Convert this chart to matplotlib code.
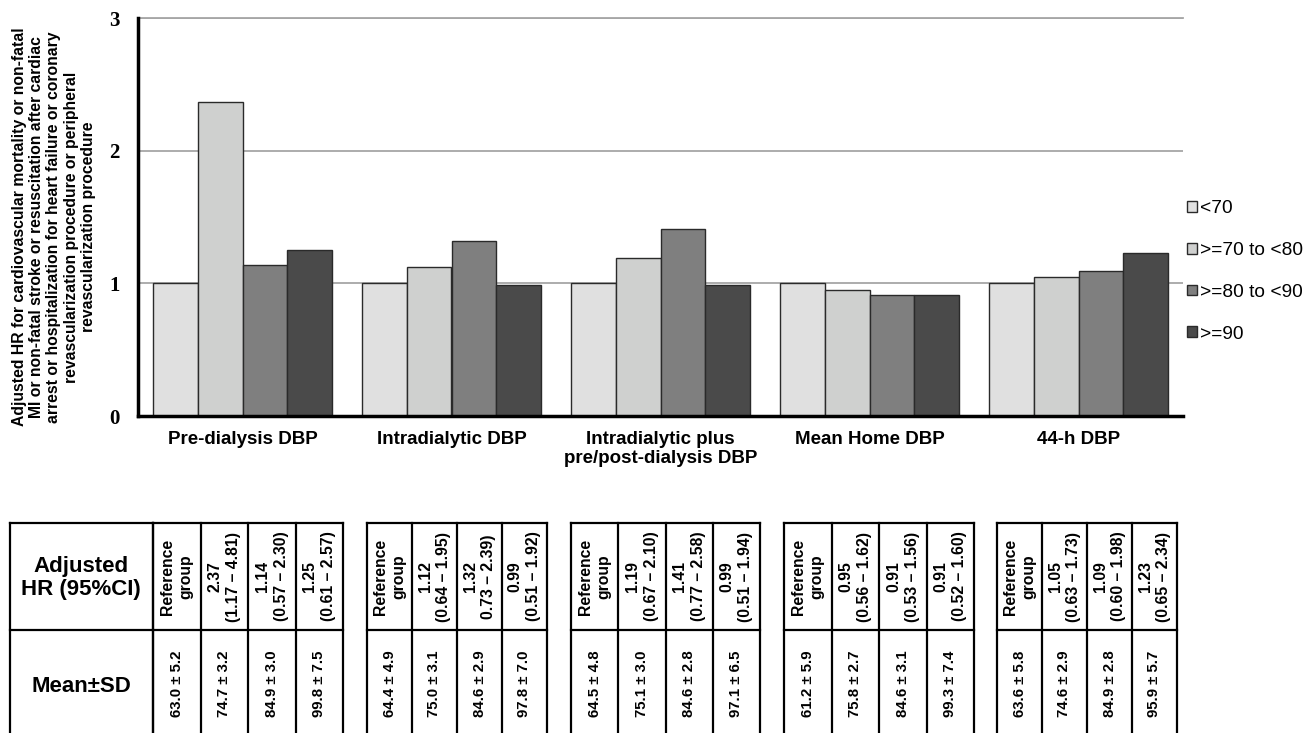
import matplotlib
matplotlib.use("Agg")
import matplotlib.pyplot as plt
from matplotlib.patches import Patch
import numpy as np

# ---- data ----
categories = ["Pre-dialysis DBP", "Intradialytic DBP",
              "Intradialytic plus\npre/post-dialysis DBP",
              "Mean Home DBP", "44-h DBP"]
series = ["<70", ">=70 to <80", ">=80 to <90", ">=90"]
hr_lt70 = [1.00, 1.00, 1.00, 1.00, 1.00]
hr_70_80 = [2.37, 1.12, 1.19, 0.95, 1.05]
hr_80_90 = [1.14, 1.32, 1.41, 0.91, 1.09]
hr_ge90 = [1.25, 0.99, 0.99, 0.91, 1.23]
yticks = [0, 1, 2, 3]

hr_text = [
    ["Reference\ngroup", "2.37\n(1.17 – 4.81)", "1.14\n(0.57 – 2.30)", "1.25\n(0.61 – 2.57)"],
    ["Reference\ngroup", "1.12\n(0.64 – 1.95)", "1.32\n0.73 – 2.39)", "0.99\n(0.51 – 1.92)"],
    ["Reference\ngroup", "1.19\n(0.67 – 2.10)", "1.41\n(0.77 – 2.58)", "0.99\n(0.51 – 1.94)"],
    ["Reference\ngroup", "0.95\n(0.56 – 1.62)", "0.91\n(0.53 – 1.56)", "0.91\n(0.52 – 1.60)"],
    ["Reference\ngroup", "1.05\n(0.63 – 1.73)", "1.09\n(0.60 – 1.98)", "1.23\n(0.65 – 2.34)"],
]
mean_vals = [[63.0, 74.7, 84.9, 99.8],
             [64.4, 75.0, 84.6, 97.8],
             [64.5, 75.1, 84.6, 97.1],
             [61.2, 75.8, 84.6, 99.3],
             [63.6, 74.6, 84.9, 95.9]]
sd_vals = [[5.2, 3.2, 3.0, 7.5],
           [4.9, 3.1, 2.9, 7.0],
           [4.8, 3.0, 2.8, 6.5],
           [5.9, 2.7, 3.1, 7.4],
           [5.8, 2.9, 2.8, 5.7]]

colors = ["#e0e0e0", "#cfd0cf", "#7f7f7f", "#4a4a4a"]
SANS = ["Liberation Sans", "DejaVu Sans"]
SERIF = ["Liberation Serif", "DejaVu Serif"]

W, H = 1309, 733
fig = plt.figure(figsize=(W / 100, H / 100), dpi=100)


def frac_box(left, top, right, bottom):
    return [left / W, 1 - bottom / H, (right - left) / W, (bottom - top) / H]


# ---- bar chart ----
ax = fig.add_axes(frac_box(138, 18, 1183, 416))
x = np.arange(len(categories))
bw = 0.213
all_series = [hr_lt70, hr_70_80, hr_80_90, hr_ge90]
for i, (vals, col, lab) in enumerate(zip(all_series, colors, series)):
    ax.bar(x + (i - 1.5) * bw, vals, width=bw, color=col,
           edgecolor="#2a2a2a", linewidth=1.0, label=lab, zorder=3)

ax.set_xlim(-0.5, len(categories) - 0.5)
ax.set_ylim(0, 3)
ax.set_yticks(yticks)
ax.set_yticklabels([str(t) for t in yticks], family=SERIF,
                   fontweight="bold", fontsize=15)
ax.yaxis.grid(True, color="#a6a6a6", linewidth=1.3, zorder=0)
ax.set_axisbelow(True)
ax.set_xticks(x)
ax.set_xticklabels(categories, family=SANS, fontweight="bold", fontsize=13.5,
                   linespacing=1.15)
ax.tick_params(axis="both", length=0)
ax.tick_params(axis="y", pad=13)
ax.tick_params(axis="x", pad=11)
for s in ["top", "right"]:
    ax.spines[s].set_visible(False)
ax.spines["left"].set_linewidth(2.5)
ax.spines["bottom"].set_linewidth(2.5)
ax.spines["bottom"].set_zorder(4)
# top gridline at 3
ax.axhline(3, color="#a6a6a6", linewidth=1.3, zorder=0, clip_on=False)

fig.text(54 / W, 1 - 227 / H,
         "Adjusted HR for cardiovascular mortality or non-fatal\n"
         "MI or non-fatal stroke or resuscitation after cardiac\n"
         "arrest or hospitalization for heart failure or coronary\n"
         "revascularization procedure or peripheral\n"
         "revascularization procedure",
         rotation=90, ha="center", va="center", multialignment="center",
         family=SANS, fontweight="bold", fontsize=11.3, linespacing=1.2)

handles = [Patch(facecolor=c, edgecolor="#2a2a2a", linewidth=1.0) for c in colors]
fig.legend(handles, series, loc="upper left",
           bbox_to_anchor=(1187 / W, 1 - 200 / H), frameon=False,
           prop={"family": SANS, "size": 13.8},
           handlelength=0.5, handleheight=0.5, handletextpad=0.2,
           labelspacing=1.3, borderaxespad=0, borderpad=0)

# ---- table below ----
tax = fig.add_axes([0, 0, 1, 1])
tax.set_xlim(0, W)
tax.set_ylim(H, 0)
tax.axis("off")

row_top, row_mid, row_bot = 523, 630, 745
lw = 1.6


def box_grid(edges):
    for yy in (row_top, row_mid):
        tax.plot([edges[0], edges[-1]], [yy, yy], color="black", lw=lw,
                 solid_capstyle="projecting")
    for xx in edges:
        tax.plot([xx, xx], [row_top, row_bot], color="black", lw=lw,
                 solid_capstyle="projecting")


box_grid([10, 153])
tax.text(81, 578, "Adjusted\nHR (95%CI)", ha="center", va="center",
         family=SANS, fontweight="bold", fontsize=16, linespacing=1.15)
tax.text(81, 686, "Mean±SD", ha="center", va="center",
         family=SANS, fontweight="bold", fontsize=16)

group_edges = [(153, 343), (367, 547), (571, 760), (784, 974), (997, 1177)]
for g, (gl, gr) in enumerate(group_edges):
    edges = np.linspace(gl, gr, 5)
    box_grid(edges)
    for j in range(4):
        cx = (edges[j] + edges[j + 1]) / 2
        tax.text(cx, (row_top + row_mid) / 2, hr_text[g][j], rotation=90,
                 ha="center", va="center", multialignment="center",
                 family=SANS, fontweight="bold", fontsize=11.3, linespacing=1.3)
        tax.text(cx, 684, f"{mean_vals[g][j]:.1f} ± {sd_vals[g][j]:.1f}",
                 rotation=90, ha="center", va="center",
                 family=SANS, fontweight="bold", fontsize=10.8)

fig.savefig("out.png", dpi=100)
